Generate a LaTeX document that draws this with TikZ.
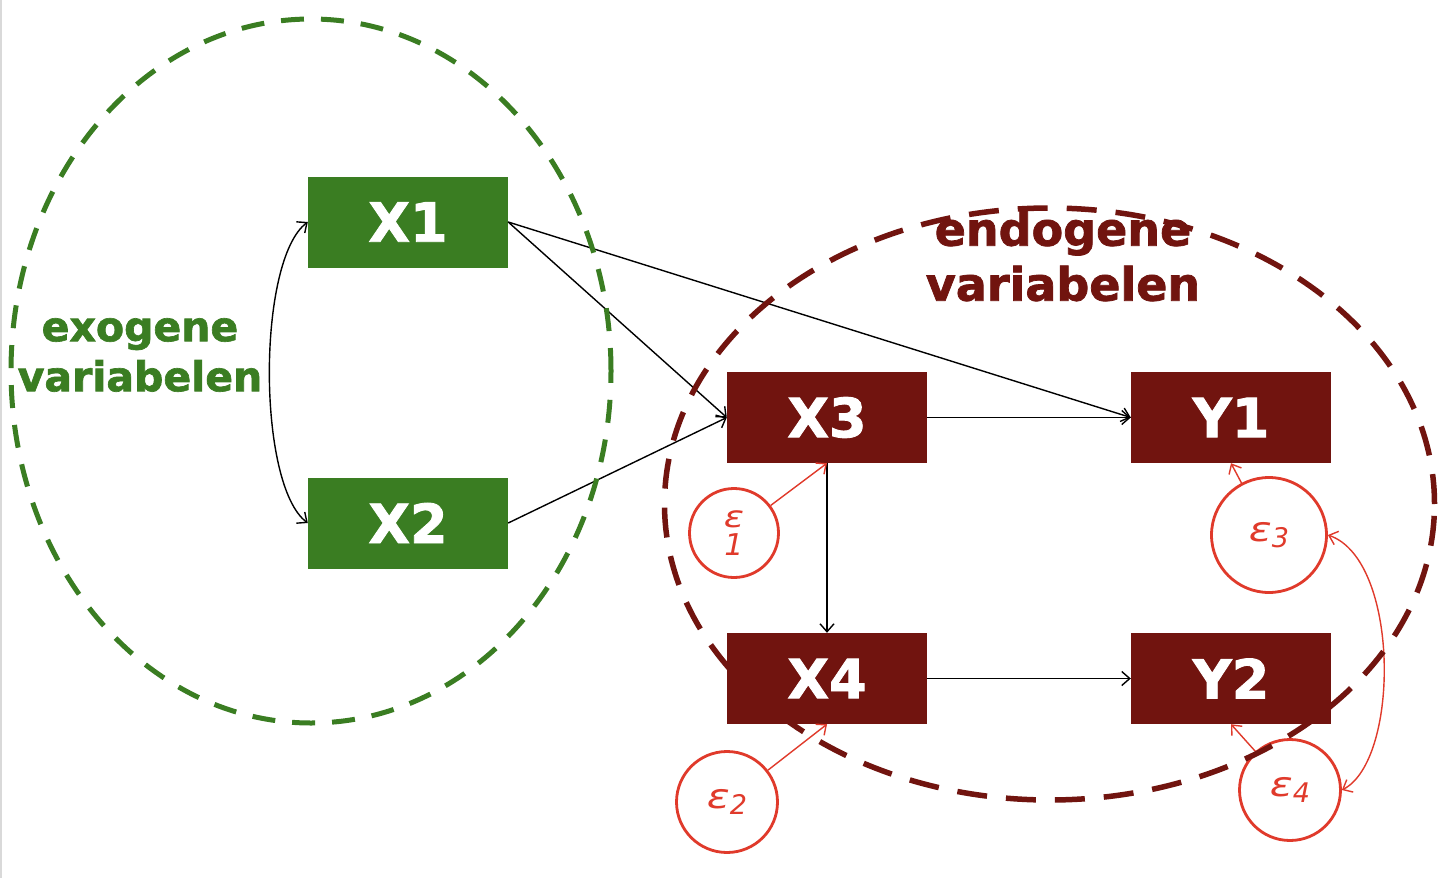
\documentclass[tikz,border=0pt]{standalone}
\usepackage{fontspec}
\setmainfont{DejaVu Sans}
\newfontfamily\heavyfont[FakeBold=1.6]{DejaVu Sans Bold}
\usetikzlibrary{arrows.meta}
\definecolor{dgreen}{RGB}{58,125,34}
\definecolor{dred}{RGB}{113,20,15}
\definecolor{ered}{RGB}{224,58,43}
\newcommand{\epssub}[1]{\scalebox{1.25}[1]{ε}\raisebox{-6pt}{\fontsize{27}{27}\selectfont #1}}
\begin{document}
\begin{tikzpicture}[x=1pt,y=-1pt,
 box/.style={minimum width=200pt, minimum height=91pt, inner sep=0pt, text=white, font=\fontsize{54}{54}\selectfont\heavyfont},
 gbox/.style={box, fill=dgreen},
 rbox/.style={box, fill=dred},
 conn/.style={draw=black, line width=1.4pt, -{Straight Barb[length=8pt,width=14pt]}},
 ecirc/.style={circle, draw=ered, line width=2.8pt, inner sep=0pt, text=ered, font=\fontsize{34}{28}\selectfont\itshape, align=center},
 earrow/.style={draw=ered, line width=1.4pt, -{Straight Barb[length=8pt,width=14pt]}},
 dbl/.style={{Straight Barb[length=8pt,width=14pt]}-{Straight Barb[length=8pt,width=14pt]}},
 grouplabel/.style={align=center, inner sep=0pt},
]
\useasboundingbox (0,0) rectangle (1454,878);
\fill[white] (0,0) rectangle (1454,878);
\draw[black!15, line width=2.5pt] (1.2,0) -- (1.2,878);

% boxes
\node[gbox] (x1) at (408,222) {X1};
\node[gbox] (x2) at (408,523) {X2};
\node[rbox] (x3) at (827,417.5) {X3};
\node[rbox] (y1) at (1231,417.5) {Y1};
\node[rbox] (x4) at (827,678.5) {X4};
\node[rbox] (y2) at (1231,678.5) {Y2};

% error circles
\node[ecirc, minimum size=89pt, font=\fontsize{30}{27}\selectfont\itshape] (e1) at (734,533) {\scalebox{1.25}[1]{ε}\\[1pt]1};
\node[ecirc, minimum size=101pt] (e2) at (727,802) {\epssub{2}};
\node[ecirc, minimum size=115pt] (e3) at (1269,535) {\epssub{3}};
\node[ecirc, minimum size=101pt] (e4) at (1290,790) {\epssub{4}};

% group labels
\node[grouplabel, text=dgreen, font=\fontsize{41}{50}\selectfont\heavyfont] (exo) at (140,355) {exogene\\variabelen};
\node[grouplabel, text=dred, font=\fontsize{46}{55}\selectfont\heavyfont] (endo) at (1063,256) {endogene\\variabelen};

% connectors
\draw[conn] (x1.east) -- (x3.west);
\draw[conn] (x1.east) -- (y1.west);
\draw[conn] (x2.east) -- (x3.west);
\draw[conn] (x3.east) -- (y1.west);
\draw[conn] (x3.south) -- (x4.north);
\draw[conn] (x4.east) -- (y2.west);
\draw[conn, dbl] (x1.west) .. controls (257,260) and (257,485) .. (x2.west);

\draw[earrow] (e1) -- (x3.south);
\draw[earrow] (e2) -- (x4.south);
\draw[earrow] (e3) -- (y1.south);
\draw[earrow] (e4) -- (y2.south);
\draw[earrow, dbl] (e3.east) .. controls (1400,560) and (1400,760) .. (e4.east);

% group ellipses
\draw[dgreen, line width=5pt, dash pattern=on 23pt off 17pt] (311,371) ellipse [x radius=300pt, y radius=352pt];
\draw[dred, line width=5.5pt, dash pattern=on 30pt off 19pt] (1049.5,504) ellipse [x radius=385pt, y radius=296pt];
\end{tikzpicture}
\end{document}
